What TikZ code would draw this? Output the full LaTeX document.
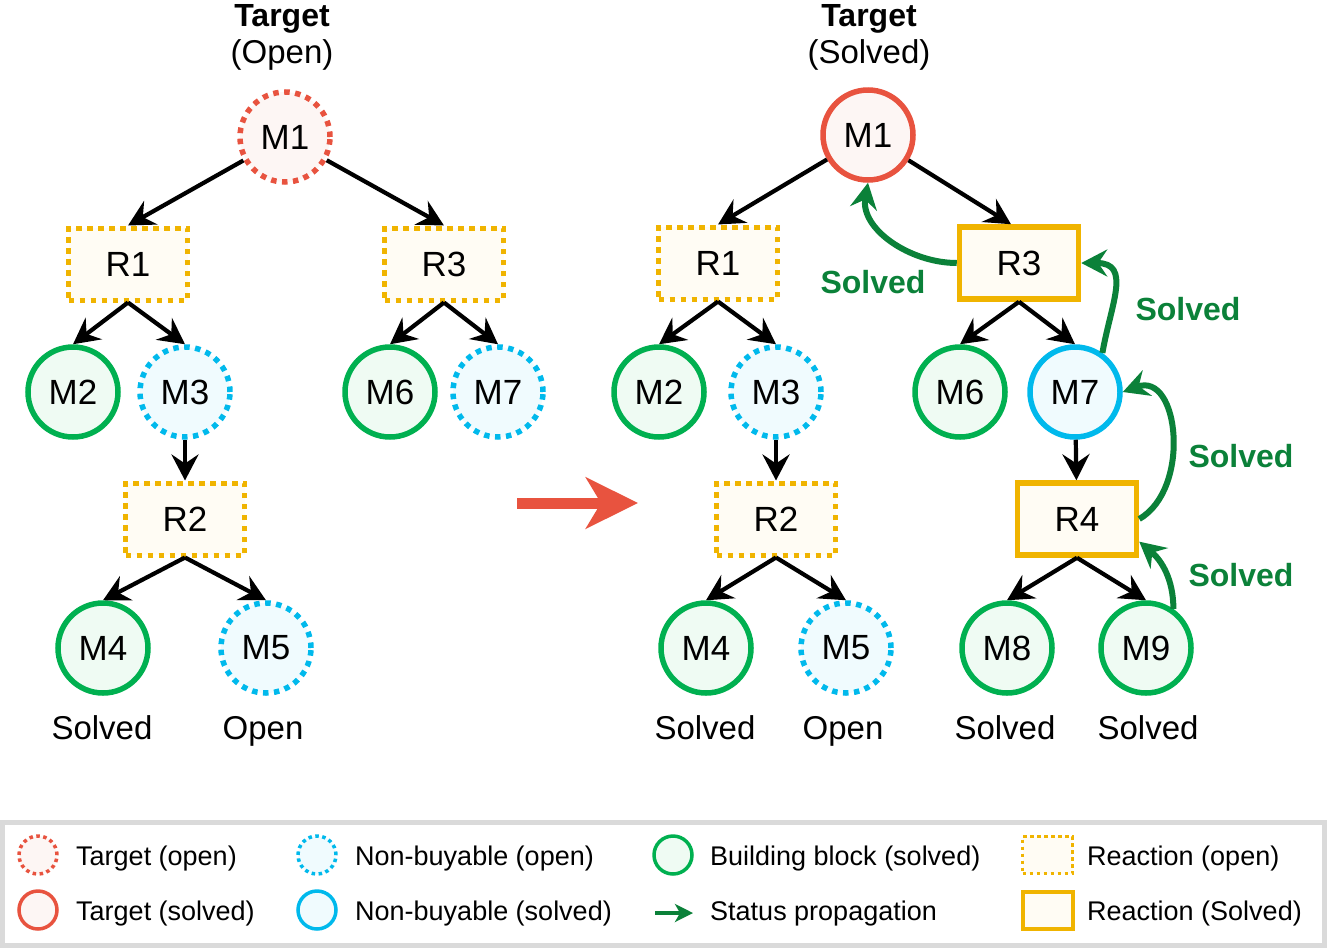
\documentclass[tikz,border=0pt]{standalone}
\usepackage{fontspec}
\setmainfont{Liberation Sans}
\usetikzlibrary{arrows.meta}
\definecolor{cred}{HTML}{E8533F}
\definecolor{credf}{HTML}{FDF6F4}
\definecolor{ccyan}{HTML}{00B9EC}
\definecolor{ccyanf}{HTML}{F0FBFE}
\definecolor{cgreen}{HTML}{00B050}
\definecolor{cgreenf}{HTML}{EFFBF3}
\definecolor{cyel}{HTML}{F0B400}
\definecolor{cyelf}{HTML}{FFFCF4}
\definecolor{cdkgreen}{HTML}{0B8139}
\definecolor{cborder}{HTML}{DADADA}
\begin{document}
\begin{tikzpicture}[x=1pt,y=-1pt,
  lbl/.style={font=\fontsize{35}{40}\selectfont},
  mol/.style={circle,minimum size=90pt,inner sep=0pt,line width=5.5pt,lbl},
  dots/.style={dash pattern=on 5.5pt off 5.5pt},
  tgto/.style={mol,draw=cred,fill=credf,dots},
  tgts/.style={mol,draw=cred,fill=credf},
  nbo/.style={mol,draw=ccyan,fill=ccyanf,dots},
  nbs/.style={mol,draw=ccyan,fill=ccyanf},
  bb/.style={mol,draw=cgreen,fill=cgreenf},
  rxn/.style={rectangle,minimum width=119pt,minimum height=72pt,inner sep=0pt,lbl,fill=cyelf},
  rxno/.style={rxn,draw=cyel,line width=5pt,dots},
  rxns/.style={rxn,draw=cyel,line width=5.5pt},
  edge/.style={line width=4.2pt,-{Stealth[length=26pt,width=27pt,inset=9pt]}},
  prop/.style={draw=cdkgreen,line width=6pt,-{Stealth[length=26pt,width=27pt,inset=9pt]}},
  solved/.style={font=\bfseries\fontsize{32}{38}\selectfont,text=cdkgreen,anchor=base,inner sep=0pt},
  captxt/.style={font=\fontsize{33}{38}\selectfont,anchor=base,inner sep=0pt},
  ttl/.style={font=\bfseries\fontsize{32}{38}\selectfont,anchor=base,inner sep=0pt},
  leg/.style={font=\fontsize{27}{32}\selectfont,anchor=base west,inner sep=0pt},
  legc/.style={circle,minimum size=38pt,inner sep=0pt,line width=3.5pt},
  legr/.style={rectangle,minimum width=50pt,minimum height=37pt,inner sep=0pt,line width=3.5pt,fill=cyelf,draw=cyel},
]
\useasboundingbox (0,0) rectangle (1327,948);

% ---------- titles ----------
\node[ttl] (t1a) at (282,26) {Target};
\node[captxt] (t1b) at (282,63) {(Open)};
\node[ttl] (t2a) at (869,26) {Target};
\node[captxt] (t2b) at (869,63) {(Solved)};

% ---------- left tree ----------
\node[tgto] (LM1) at (285,137) {M1};
\node[rxno] (LR1) at (128,264) {R1};
\node[rxno] (LR3) at (444,264) {R3};
\node[bb]  (LM2) at (73,392) {M2};
\node[nbo] (LM3) at (185,392) {M3};
\node[bb]  (LM6) at (390,392) {M6};
\node[nbo] (LM7) at (498,392) {M7};
\node[rxno] (LR2) at (185,519) {R2};
\node[bb]  (LM4) at (103,648) {M4};
\node[nbo] (LM5) at (266,648) {M5};
\node[captxt] (LS4) at (102,739) {Solved};
\node[captxt] (LO5) at (263,739) {Open};

\draw[edge] (LM1) -- (LR1.north);
\draw[edge] (LM1) -- (LR3.north);
\draw[edge] (LR1.south) -- (LM2.north);
\draw[edge] (LR1.south) -- (LM3.north);
\draw[edge] (LR3.south) -- (LM6.north);
\draw[edge] (LR3.south) -- (LM7.north);
\draw[edge] (LM3) -- (LR2);
\draw[edge] (LR2.south) -- (LM4.north);
\draw[edge] (LR2.south) -- (LM5.north);

% ---------- big arrow ----------
\coordinate (ra) at (517,503);
\coordinate (rb) at (638,503);
\draw[cred,line width=11pt,-{Stealth[length=52pt,width=51pt,inset=15pt]}] (ra) -- (rb);

% ---------- right tree ----------
\node[tgts] (RM1) at (868,135) {M1};
\node[rxno] (RR1) at (718,263) {R1};
\node[rxns] (RR3) at (1019,263) {R3};
\node[bb]  (RM2) at (659,392) {M2};
\node[nbo] (RM3) at (776,392) {M3};
\node[bb]  (RM6) at (960,392) {M6};
\node[nbs] (RM7) at (1075,392) {M7};
\node[rxno] (RR2) at (776,519) {R2};
\node[rxns] (RR4) at (1077,519) {R4};
\node[bb]  (RM4) at (706,648) {M4};
\node[nbo] (RM5) at (846,648) {M5};
\node[bb]  (RM8) at (1007,648) {M8};
\node[bb]  (RM9) at (1146,648) {M9};
\node[captxt] (RS4) at (705,739) {Solved};
\node[captxt] (RO5) at (843,739) {Open};
\node[captxt] (RS8) at (1005,739) {Solved};
\node[captxt] (RS9) at (1148,739) {Solved};

\draw[edge] (RM1) -- (RR1.north);
\draw[edge] (RM1) -- ([xshift=-8pt]RR3.north);
\draw[edge] (RR1.south) -- (RM2.north);
\draw[edge] (RR1.south) -- (RM3.north);
\draw[edge] (RR3.south) -- (RM6.north);
\draw[edge] (RR3.south) -- (RM7.north);
\draw[edge] (RM7) -- (RR4);
\draw[edge] (RM3) -- (RR2);
\draw[edge] (RR2.south) -- (RM4.north);
\draw[edge] (RR2.south) -- (RM5.north);
\draw[edge] (RR4.south) -- (RM8.north);
\draw[edge] (RR4.south) -- (RM9.north);

% ---------- status propagation ----------
\draw[prop] (RR3.west) to[out=180,in=-100] (RM1.south);
\draw[prop] (RM7.55) to[out=80,in=0,looseness=1.4] (RR3.east);
\draw[prop] (RR4.east) to[out=30,in=20,looseness=1.2] (RM7.east);
\draw[prop] (RM9.55) to[out=90,in=-40] (RR4.-20);
\node[solved] (g1) at (873,293) {Solved};
\node[solved] (g2) at (1188,320) {Solved};
\node[solved] (g3) at (1241,467) {Solved};
\node[solved] (g4) at (1241,586) {Solved};

% ---------- legend ----------
\draw[cborder,line width=5pt,fill=white] (2.5,822.5) rectangle (1324.5,945.5);
\node[legc,draw=cred,fill=credf,dash pattern=on 3.5pt off 3.5pt] (k1) at (38,855) {};
\node[leg] (k1t) at (76,865) {Target (open)};
\node[legc,draw=cred,fill=credf] (k2) at (38,910) {};
\node[leg] (k2t) at (76,920) {Target (solved)};
\node[legc,draw=ccyan,fill=ccyanf,dash pattern=on 3.5pt off 3.5pt] (k3) at (317,855) {};
\node[leg] (k3t) at (355,865) {Non-buyable (open)};
\node[legc,draw=ccyan,fill=ccyanf] (k4) at (317,910) {};
\node[leg] (k4t) at (355,920) {Non-buyable (solved)};
\node[legc,draw=cgreen,fill=cgreenf] (k5) at (673,855) {};
\node[leg] (k5t) at (710,865) {Building block (solved)};
\coordinate (k6a) at (655,913);
\coordinate (k6b) at (693,913);
\draw[cdkgreen,line width=4.5pt,-{Stealth[length=18pt,width=18pt,inset=5pt]}] (k6a) -- (k6b);
\node[leg] (k6t) at (710,920) {Status propagation};
\node[legr,dash pattern=on 3.5pt off 3.5pt] (k7) at (1047.5,855) {};
\node[leg] (k7t) at (1087,865) {Reaction (open)};
\node[legr,line width=4pt] (k8) at (1047.5,910) {};
\node[leg] (k8t) at (1087,920) {Reaction (Solved)};
\end{tikzpicture}
\end{document}
